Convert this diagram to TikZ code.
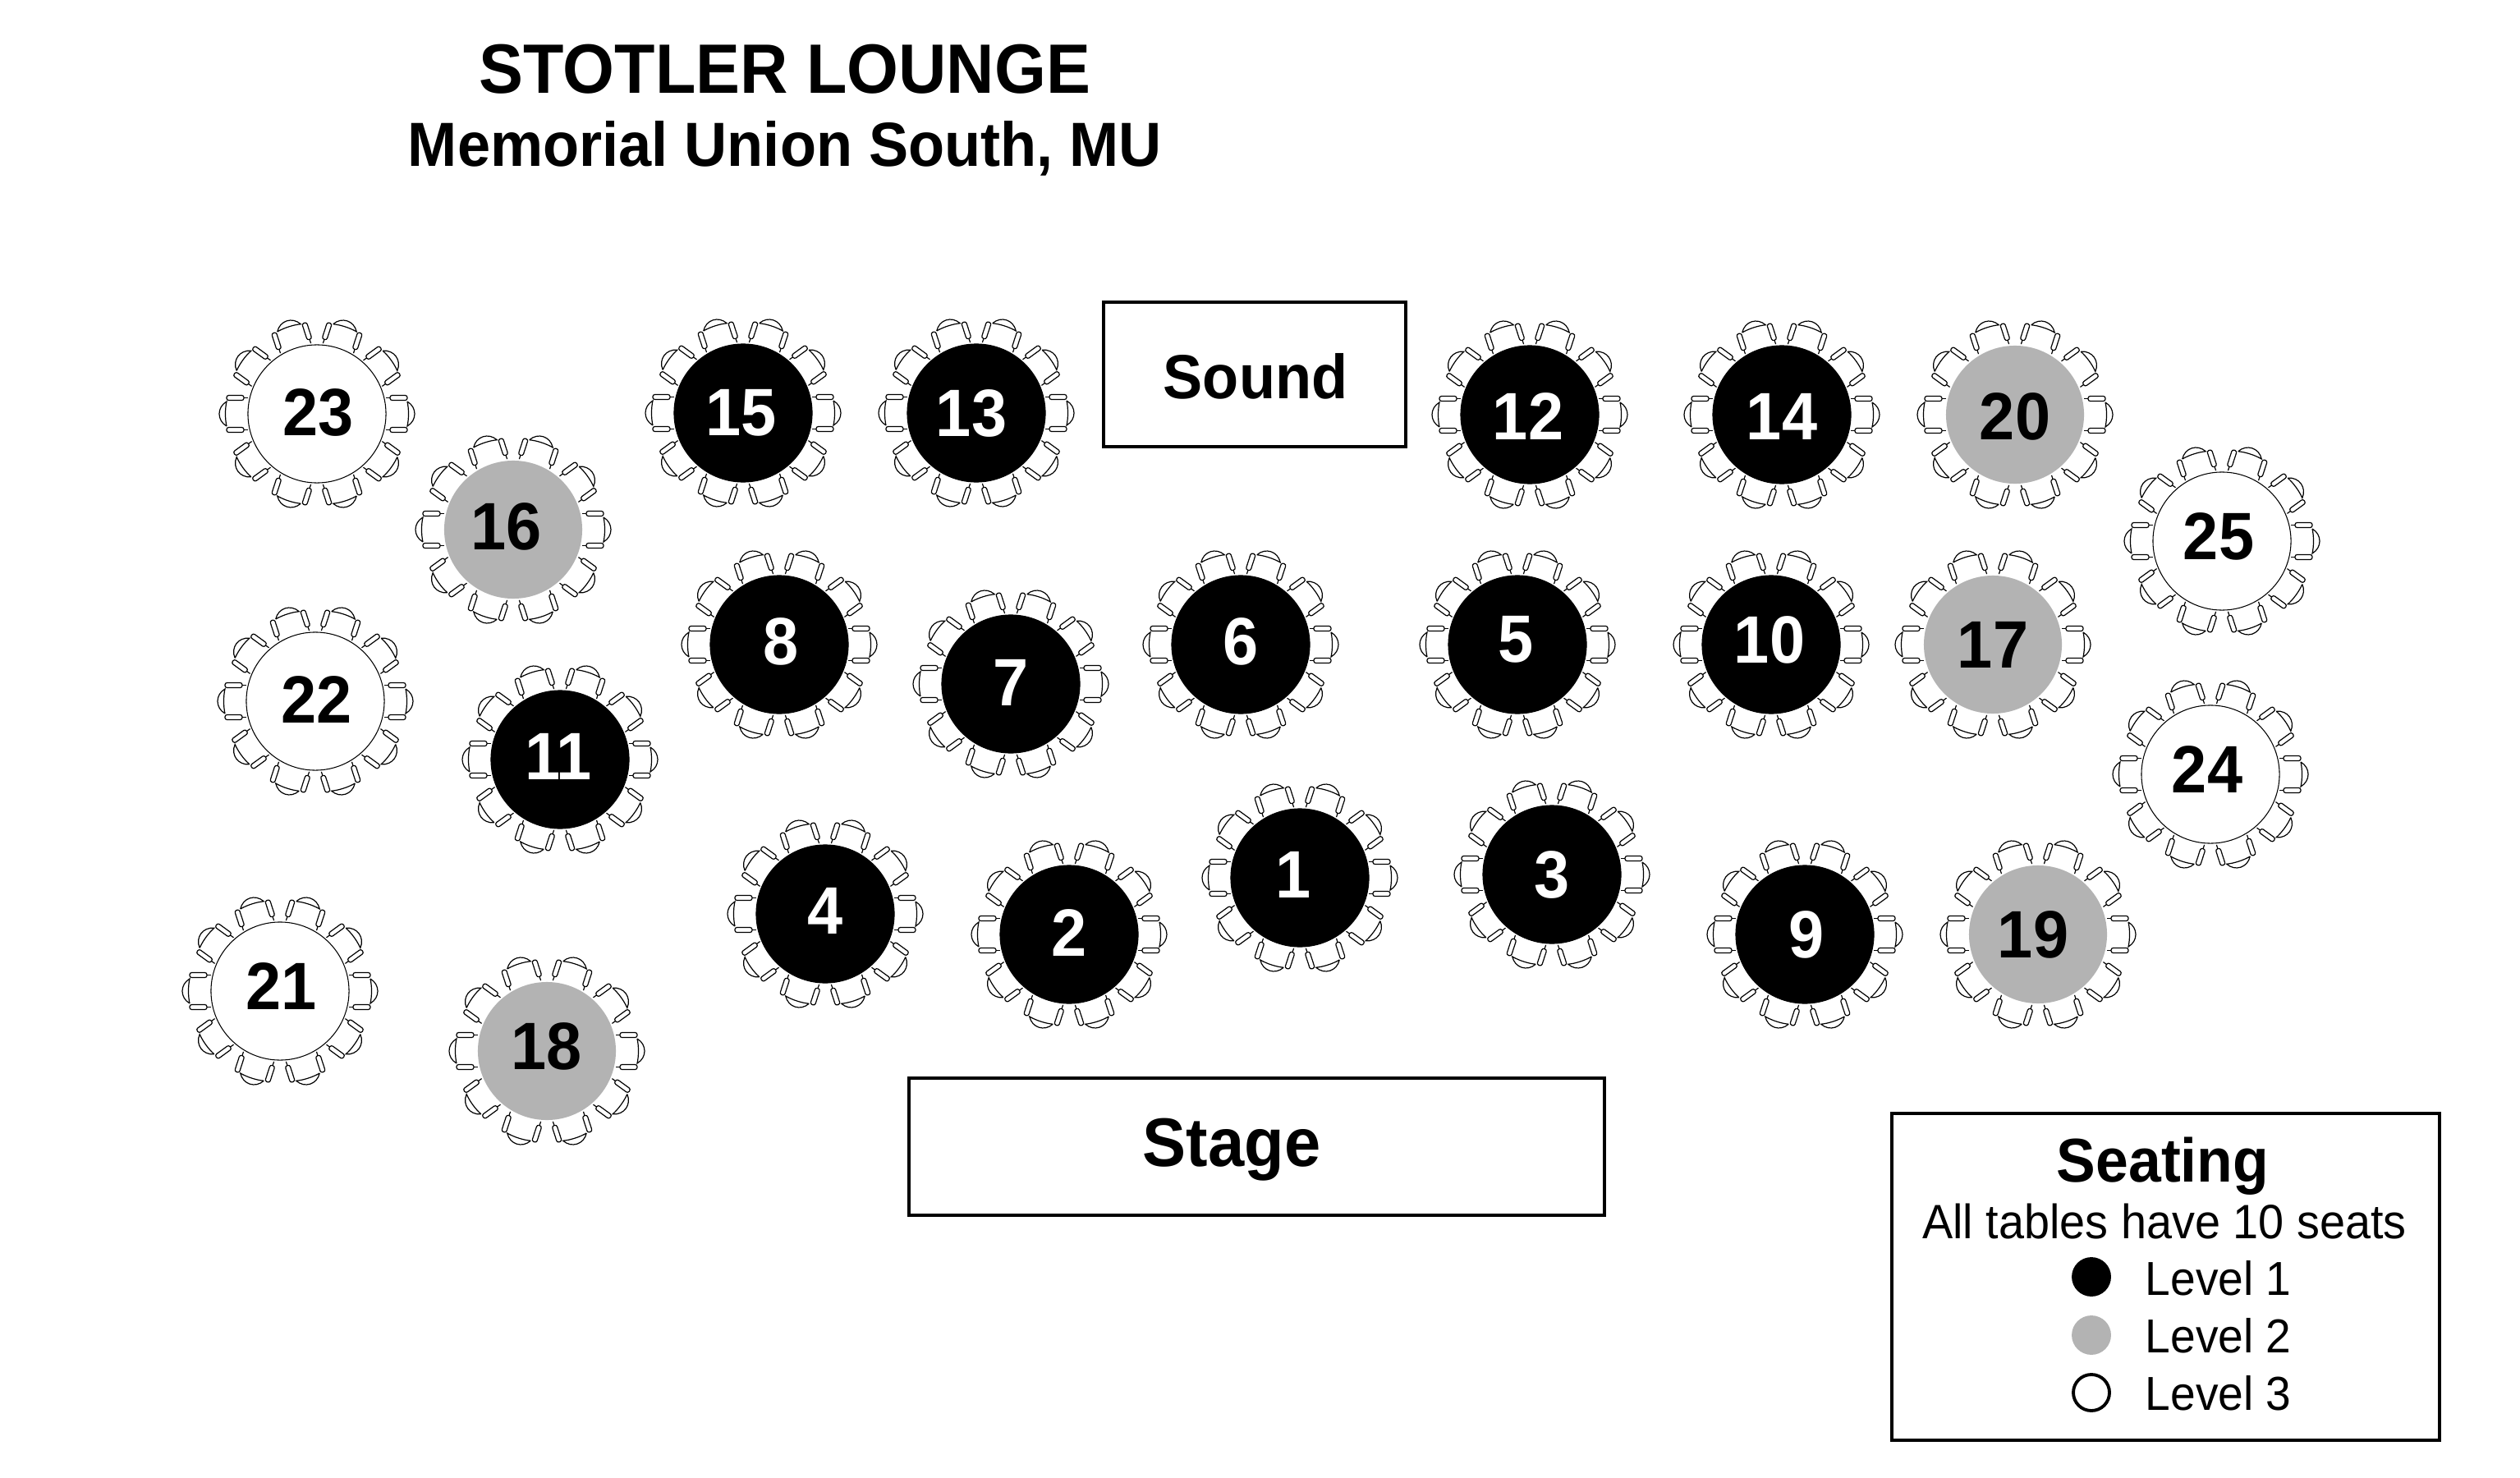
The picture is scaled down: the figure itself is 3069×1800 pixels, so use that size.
\documentclass[tikz,border=0pt]{standalone}
\usepackage{fontspec}
\setmainfont[FakeStretch=0.95]{Liberation Sans}
\definecolor{tablegray}{HTML}{B3B3B3}
\tikzset{
  tablebase/.style={circle,line width=0.3pt,minimum size=1.68cm,inner sep=0},
  tableone/.style={tablebase,draw=black,fill=black},
  tabletwo/.style={tablebase,fill=tablegray},
  tablethree/.style={tablebase,draw=black,fill=white},
  tablenum/.style={inner sep=0,font=\fontsize{23.2}{27}\selectfont\bfseries},
  roombox/.style={draw=black,line width=1.14pt},
  chairline/.style={line width=0.34pt},
  seat/.pic={
    \draw[chairline] (84,-19.5) -- (89,-19.5) (84,19.5) -- (89,19.5);
    \draw[chairline,rounded corners=0.025cm] (89,-22.5) rectangle (110,-16.5);
    \draw[chairline,rounded corners=0.025cm] (89,22.5) rectangle (110,16.5);
    \draw[chairline] (110,-15) .. controls (122,-8) and (122,8) .. (110,15) .. controls (112,6) and (112,-6) .. (110,-15);
  }
}
\begin{document}
\begin{tikzpicture}[x=0.01cm,y=-0.01cm]
  \useasboundingbox (0,0) rectangle (3069,1800);
  \node[font=\fontsize{24.2}{28}\selectfont\bfseries] (title) at (956,84) {STOTLER LOUNGE};
  \node[font=\fontsize{21.6}{25}\selectfont\bfseries] (subtitle) at (956,181) {Memorial Union South, MU};
  % tables, last two values nudge the number
  \foreach \n/\x/\y/\lvl/\numcol/\dx/\dy in {
      1/1583/1069/tableone/white/-8/-4,2/1302/1138/tableone/white/0/-2,
      3/1890/1065/tableone/white/0/0,4/1005/1113/tableone/white/0/-4,
      5/1848/785/tableone/white/-2/-6,6/1511/785/tableone/white/0/-4,
      7/1231/833/tableone/white/0/-2,8/949/785/tableone/white/2/-4,
      9/2198/1138/tableone/white/2/0,10/2157/785/tableone/white/-2/-6,
      11/682/925/tableone/white/-2/-4,12/1863/505/tableone/white/-2/2,
      13/1189/503/tableone/white/-6/0,14/2170/505/tableone/white/0/2,
      15/905/503/tableone/white/-2/0,
      16/625/645/tabletwo/black/-8/-4,17/2427/785/tabletwo/black/0/0,
      18/666/1280/tabletwo/black/0/-6,19/2482/1138/tabletwo/black/-6/0,
      20/2454/505/tabletwo/black/0/2,
      21/341/1207/tablethree/black/2/-6,22/384/854/tablethree/black/2/-2,
      23/386/504/tablethree/black/2/-2,24/2692/943/tablethree/black/-4/-6,
      25/2706/659/tablethree/black/-4/-6}
  {
    \node[\lvl] (t\n) at (\x,\y) {};
    \node[tablenum,text=\numcol] (num\n) at (\x+\dx,\y+\dy) {\n};
    \foreach \a in {0,36,...,324}
      \pic[rotate=\a] at (t\n) {seat};
  }
  \draw[roombox] (1344,368) rectangle (1712,544);
  \node[font=\fontsize{21.6}{25}\selectfont\bfseries] (sound) at (1529,458) {Sound};
  \draw[roombox] (1107,1313) rectangle (1954,1480);
  \node[font=\fontsize{23.8}{27}\selectfont\bfseries] (stage) at (1500,1400) {Stage};
  % legend
  \draw[roombox] (2304,1356) rectangle (2971,1754);
  \node[font=\fontsize{21.4}{25}\selectfont\bfseries] (seating) at (2634,1420) {Seating};
  \node[font=\fontsize{16.7}{20}\selectfont] (seats) at (2636,1487) {All tables have 10 seats};
  \foreach \k/\y/\dotY/\c/\e in {1/1557/1555/black/black,2/1627/1626/tablegray/tablegray,3/1697/1696/white/black}
  {
    \node[circle,draw=\e,line width=1.1pt,fill=\c,minimum size=0.44cm,inner sep=0] (dot\k) at (2547,\dotY) {};
    \node[font=\fontsize{16.5}{19}\selectfont,anchor=west,inner sep=0] (lab\k) at (2612,\y) {Level \k};
  }
\end{tikzpicture}
\end{document}
